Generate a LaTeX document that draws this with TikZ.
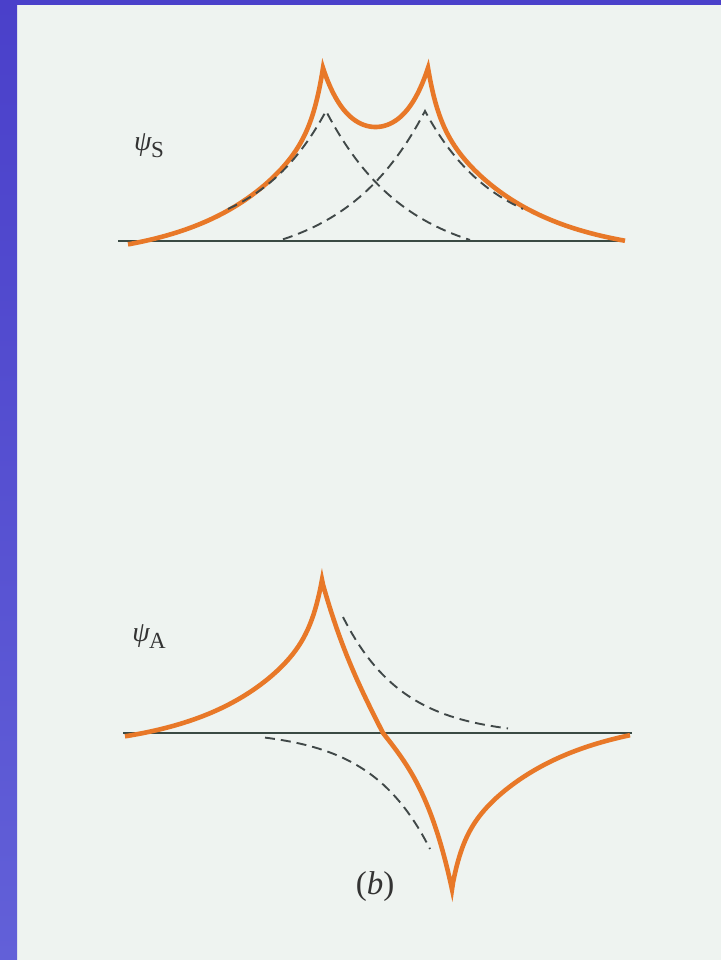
\documentclass[tikz,border=0pt]{standalone}
\usepackage{fontspec}
\setmainfont{Liberation Serif}
\usepackage{tikz}
\definecolor{bgc}{RGB}{238,243,240}
\definecolor{bluetop}{RGB}{74,64,202}
\definecolor{bluebot}{RGB}{98,96,216}
\definecolor{orng}{RGB}{232,120,40}
\definecolor{dsh}{RGB}{64,72,72}
\definecolor{axc}{RGB}{58,74,68}
\tikzset{
  wave/.style={draw=orng, line width=4.6pt, line join=miter, miter limit=12},
  part/.style={draw=dsh, line width=1.9pt, dash pattern=on 10pt off 6pt, line join=miter},
  axisline/.style={draw=axc, line width=1.8pt},
  lab/.style={inner sep=0pt, text=black!80, font=\fontsize{28}{32}\selectfont}
}
\newcommand{\wlab}[1]{{\itshape ψ}\kern-0.5pt\raisebox{-7pt}{\fontsize{23}{23}\selectfont #1}}
\begin{document}
\begin{tikzpicture}[x=1pt,y=-1pt]
\useasboundingbox (0,0) rectangle (721,960);
\fill[bgc] (0,0) rectangle (721,960);
\shade[top color=bluetop, bottom color=bluebot] (0,0) rectangle (17,960);
\fill[bluetop] (0,0) rectangle (721,5);

% ---------- top graph (psi_S) ----------
\coordinate (a1) at (118,241);
\coordinate (a2) at (625,241);
\draw[axisline] (a1) -- (a2);
\draw[wave]
  plot[domain=128:323, samples=196] (\x, {241 - (150*exp((\x-326)/90) - 20 + 48*exp((\x-323)/10))})
  -- plot[domain=324:428, samples=105] (\x, {241 - (18.77*cosh((\x-375.5)/25) + 95.23)})
  -- plot[domain=429:625, samples=197] (\x, {241 - (150*exp(-(\x-425)/90) - 16 + 44*exp(-(\x-428)/10))});
\draw[part]
  plot[domain=228:326, samples=99] (\x, {241 - 130*exp((\x-326)/70)})
  -- plot[domain=327:470, samples=144] (\x, {241 - (155*exp(-(\x-326)/80.7) - 25)});
\draw[part]
  plot[domain=283:425, samples=143] (\x, {241 - (155*exp((\x-425)/80.7) - 25)})
  -- plot[domain=426:523, samples=98] (\x, {241 - 130*exp(-(\x-425)/70)});
\node[lab] (psiS) at (149,146) {\wlab{S}};

% ---------- bottom graph (psi_A) ----------
\coordinate (b1) at (123,733);
\coordinate (b2) at (632,733);
\draw[axisline] (b1) -- (b2);
\draw[wave]
  plot[domain=125:322, samples=198] (\x, {733 - (135.6*exp((\x-325)/90) - 18 + 40*exp((\x-322)/10))})
  -- plot[domain=323:383, samples=61] (\x, {733 + 98.3*sinh((\x-383)/50)})
  -- plot[domain=384:452, samples=69] (\x, {733 + 44.4*sinh((\x-383)/35)})
  -- plot[domain=453:630, samples=178] (\x, {733 + (135.6*exp(-(\x-449)/95) - 18 + 41.6*exp(-(\x-452)/10))});
\draw[part]
  plot[domain=343:508, samples=70] (\x, {733 - (119*exp(-(\x-343)/60) - 3)});
\draw[part]
  plot[domain=265:430, samples=70] (\x, {733 + (119*exp((\x-430)/60) - 3)});
\node[lab] (psiA) at (149,637) {\wlab{A}};
\node[lab, font=\fontsize{33}{38}\selectfont] (blab) at (375,887) {(\textit{b})};
\end{tikzpicture}
\end{document}
